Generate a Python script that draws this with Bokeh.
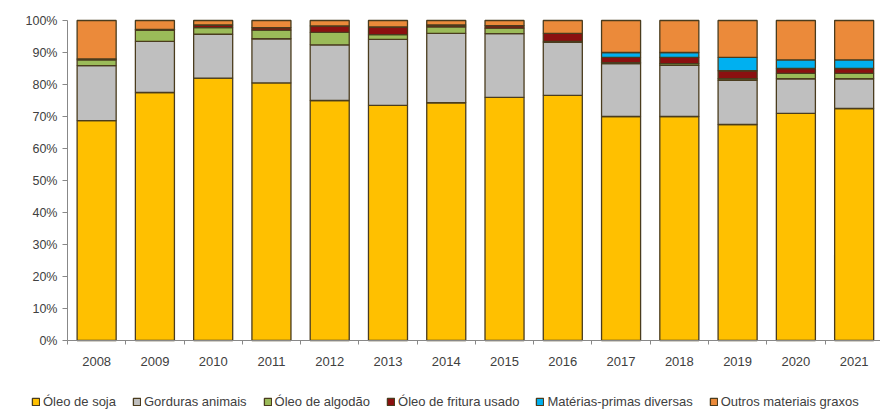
from bokeh.plotting import figure
from bokeh.models import FixedTicker, Legend, LegendItem, NumeralTickFormatter, Range1d
from bokeh.embed import file_html
from bokeh.resources import INLINE

years = ["2008", "2009", "2010", "2011", "2012", "2013", "2014",
         "2015", "2016", "2017", "2018", "2019", "2020", "2021"]

soja      = [68.7, 77.5, 82.0, 80.5, 75.0, 73.5, 74.3, 76.0, 76.6, 70.0, 70.0, 67.5, 71.0, 72.5]
gorduras  = [17.2, 16.0, 13.7, 13.8, 17.4, 20.6, 21.7, 19.9, 16.6, 16.5, 16.0, 13.8, 10.8,  9.3]
algodao   = [ 1.8,  3.4,  2.1,  2.7,  3.9,  1.5,  2.0,  1.7,  0.3,  0.3,  0.5,  0.5,  1.7,  1.7]
fritura   = [ 0.3,  0.3,  0.8,  0.8,  2.0,  2.4,  0.6,  0.8,  2.5,  1.7,  2.0,  2.5,  1.5,  1.5]
materias  = [ 0.0,  0.0,  0.0,  0.0,  0.0,  0.0,  0.0,  0.0,  0.0,  1.5,  1.5,  4.2,  2.7,  2.7]
outros    = [12.0,  2.8,  1.4,  2.2,  1.7,  2.0,  1.4,  1.6,  4.0, 10.0, 10.0, 11.5, 12.3, 12.3]

series_names = ["Óleo de soja", "Gorduras animais", "Óleo de algodão",
                "Óleo de fritura usado", "Matérias-primas diversas", "Outros materiais graxos"]
series_vals = [soja, gorduras, algodao, fritura, materias, outros]
colors = ["#FFC000", "#BFBFBF", "#9BBB59", "#8B1010", "#00B0F0", "#EB8A3A"]

y_ticks = [0, 10, 20, 30, 40, 50, 60, 70, 80, 90, 100]

xs = list(range(len(years)))
n = len(years)

# frame covers whole canvas; axes are pinned at data locations
W, H = 880, 409
px_x = 58.27           # pixels per category
px_y = 3.2             # pixels per percent
ax_left_px = 67        # y-axis position from left
ax_top_px = 20         # 100% line from top
x0 = -0.5 - ax_left_px / px_x
x1 = x0 + W / px_x
y1 = 100 + ax_top_px / px_y
y0 = y1 - H / px_y

p = figure(width=W, height=H, output_backend="svg", toolbar_location=None,
           x_range=Range1d(x0, x1), y_range=Range1d(y0, y1),
           min_border=0)
p.outline_line_color = None
p.background_fill_color = "white"

bottoms = [0.0] * n
renderers = []
for name, vals, col in zip(series_names, series_vals, colors):
    tops = [b + v for b, v in zip(bottoms, vals)]
    r = p.vbar(x=xs, bottom=bottoms, top=tops, width=0.67, fill_color=col,
               line_color="#4a3c1e", line_width=1.3)
    renderers.append((name, r))
    bottoms = tops

p.xgrid.grid_line_color = None
p.ygrid.grid_line_color = None

p.yaxis.fixed_location = -0.5
p.yaxis.bounds = (0, 100)
p.yaxis.ticker = FixedTicker(ticks=y_ticks)
p.yaxis.formatter = NumeralTickFormatter(format="0")
p.yaxis.major_label_overrides = {t: f"{t}%" for t in y_ticks}
p.yaxis.axis_line_color = "#888888"
p.yaxis.major_tick_line_color = "#888888"
p.yaxis.major_tick_out = 5
p.yaxis.major_tick_in = 0
p.yaxis.minor_tick_line_color = None
p.yaxis.major_label_text_font = "Liberation Sans"
p.yaxis.major_label_text_font_size = "12.5px"
p.yaxis.major_label_text_color = "#404040"
p.yaxis.major_label_standoff = 5

p.xaxis.fixed_location = 0
p.xaxis.bounds = (-0.5, n - 0.5)
p.xaxis.ticker = FixedTicker(ticks=xs, minor_ticks=[i - 0.5 for i in range(n + 1)])
p.xaxis.major_label_overrides = {i: y for i, y in zip(xs, years)}
p.xaxis.axis_line_color = "#888888"
p.xaxis.major_tick_line_color = None
p.xaxis.minor_tick_line_color = "#888888"
p.xaxis.minor_tick_out = 4
p.xaxis.minor_tick_in = 0
p.xaxis.major_label_text_font = "Liberation Sans"
p.xaxis.major_label_text_font_size = "13px"
p.xaxis.major_label_text_color = "#404040"
p.xaxis.major_label_standoff = 10

legend = Legend(items=[LegendItem(label=nm, renderers=[r]) for nm, r in renderers],
                orientation="horizontal", location=(31, 0),
                glyph_width=9, glyph_height=9, label_standoff=3, spacing=16,
                padding=0, margin=0, border_line_color=None,
                background_fill_alpha=0,
                label_text_font="Liberation Sans", label_text_font_size="13px",
                label_text_color="#404040")
p.add_layout(legend, "center")

open("out.html", "w").write(file_html(p, INLINE))
